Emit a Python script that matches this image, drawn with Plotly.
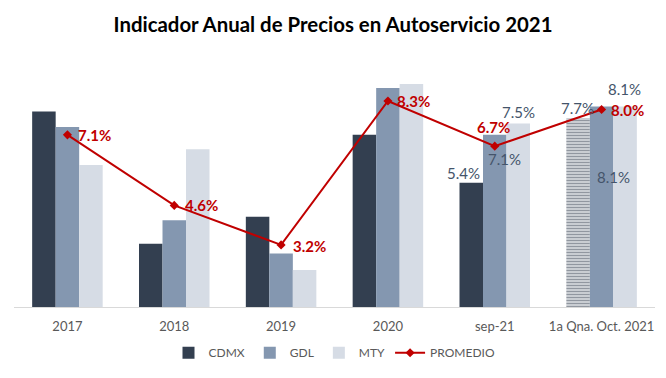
import plotly.graph_objects as go

categories = ["2017", "2018", "2019", "2020", "sep-21", "1a Qna. Oct. 2021"]
cdmx = [7.93, 3.24, 4.20, 7.10, 5.4, 7.7]
gdl = [7.38, 4.07, 2.90, 8.76, 7.1, 8.1]
mty = [6.03, 6.59, 2.31, 8.90, 7.5, 8.1]
promedio = [7.1, 4.6, 3.2, 8.3, 6.7, 8.0]
promedio_labels = ["7.1%", "4.6%", "3.2%", "8.3%", "6.7%", "8.0%"]

C_CDMX = "#333F50"
C_GDL = "#8497B0"
C_MTY = "#D6DCE5"
C_RED = "#C00000"
C_LBL = "#44546A"

fig = go.Figure()
fig.add_bar(x=categories[:-1], y=cdmx[:-1], name="CDMX", marker_color=C_CDMX,
            marker_line_width=0, offsetgroup="a")
# last CDMX bar is drawn with a striped fill
fig.add_bar(x=categories[-1:], y=cdmx[-1:], name="CDMX", marker_color="#E4E6EA",
            marker_line_width=0, offsetgroup="a", showlegend=False,
            marker_pattern=dict(shape="-", fgcolor="#3E4756", size=3, solidity=0.55))
fig.add_bar(x=categories, y=gdl, name="GDL", marker_color=C_GDL, marker_line_width=0,
            offsetgroup="b")
fig.add_bar(x=categories, y=mty, name="MTY", marker_color=C_MTY, marker_line_width=0,
            offsetgroup="c")
fig.add_scatter(x=categories, y=promedio, name="PROMEDIO", mode="lines+markers",
                line=dict(color=C_RED, width=2),
                marker=dict(symbol="diamond", size=7, color=C_RED))

annotations = []
red_shift = [(27, 0), (27, 0), (28, -1), (26, 0), (-1, 19), (26, -1)]
for i, (v, t, (dx, dy)) in enumerate(zip(promedio, promedio_labels, red_shift)):
    annotations.append(dict(x=i, y=v, text="<b>" + t + "</b>", showarrow=False,
                            xref="x", yref="y", xshift=dx, yshift=dy,
                            font=dict(size=15, color=C_RED, family="Lato")))

bw = 23.4
series_vals = {"CDMX": cdmx, "GDL": gdl, "MTY": mty}
series_off = {"CDMX": -bw, "GDL": 0, "MTY": bw}
labels = [
    ("sep-21", "CDMX", -8, 10),
    ("sep-21", "GDL", 10, -24),
    ("sep-21", "MTY", 0, 12),
    ("1a Qna. Oct. 2021", "CDMX", -1, 10),
    ("1a Qna. Oct. 2021", "GDL", 12, -70),
    ("1a Qna. Oct. 2021", "MTY", 0, 18),
]
for cat, s, ddx, dy in labels:
    i = categories.index(cat)
    v = series_vals[s][i]
    annotations.append(dict(x=i, y=v, text=f"{v:.1f}%", showarrow=False,
                            xref="x", yref="y", xshift=series_off[s] + ddx, yshift=dy,
                            font=dict(size=15, color=C_LBL, family="Lato")))

fig.update_layout(
    width=666, height=378,
    margin=dict(l=14, r=11, t=53, b=63),
    paper_bgcolor="white", plot_bgcolor="white",
    title=dict(text="<b>Indicador Anual de Precios en Autoservicio 2021</b>",
               x=0.5, xanchor="center", y=1 - 25 / 378, yanchor="middle",
               font=dict(family="Lato", size=20.4, color="black")),
    barmode="group", bargap=0.34, bargroupgap=0,
    legend=dict(orientation="h", x=0.5, xanchor="center", y=-0.18, yanchor="middle",
                font=dict(family="Lato", size=12, color="#595959"), itemwidth=30),
    xaxis=dict(type="category", categoryorder="array", categoryarray=categories,
               range=[-0.5, 5.5], autorange=False,
               showgrid=False, showline=True, linecolor="#D9D9D9", linewidth=1,
               ticks="outside", ticklen=7, tickcolor="rgba(0,0,0,0)",
               tickfont=dict(family="Lato", size=13, color="#595959")),
    yaxis=dict(range=[1, 10], visible=False, showgrid=False),
    annotations=annotations,
)
fig.write_html("out.html", post_script="document.body.style.margin='0';",
               config={"displayModeBar": False})
